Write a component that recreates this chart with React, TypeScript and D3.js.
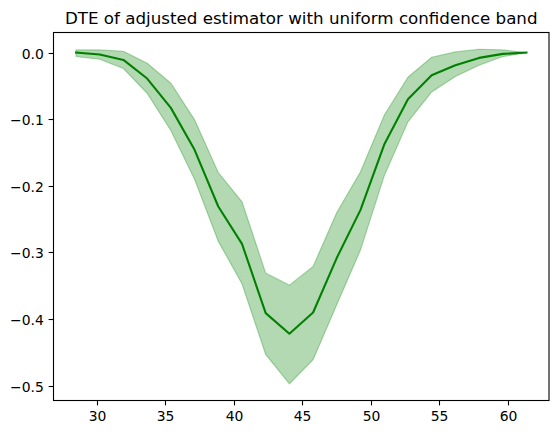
import * as React from 'react';
import * as d3 from 'd3';

const xs = [28.5, 30.23, 31.96, 33.69, 35.42, 37.15, 38.88, 40.61, 42.34, 44.07,
	45.8, 47.53, 49.26, 50.99, 52.72, 54.45, 56.18, 57.91, 59.64, 61.37];
const dte = [0, -0.003, -0.011, -0.039, -0.083, -0.146, -0.231, -0.287, -0.391, -0.422,
	-0.390, -0.308, -0.236, -0.138, -0.070, -0.034, -0.019, -0.008, -0.002, 0];
const upper = [0.004, 0.004, 0.002, -0.016, -0.046, -0.101, -0.180, -0.224, -0.331, -0.349,
	-0.321, -0.240, -0.179, -0.094, -0.037, -0.007, 0.001, 0.005, 0.004, 0];
const lower = [-0.006, -0.010, -0.024, -0.061, -0.117, -0.190, -0.283, -0.347, -0.453, -0.497,
	-0.461, -0.378, -0.296, -0.185, -0.104, -0.059, -0.036, -0.019, -0.006, 0];
const xTicks = [30, 35, 40, 45, 50, 55, 60];
const yTicks = [0, -0.1, -0.2, -0.3, -0.4, -0.5];
const title = 'DTE of adjusted estimator with uniform confidence band';

const W = 559, H = 435;
const box = {left: 53.5, top: 32.5, right: 549, bottom: 400.5};
const font = '"DejaVu Sans", sans-serif';

const draw = (svgNode: SVGSVGElement) => {
	const svg = d3.select(svgNode);
	svg.html('');

	// matplotlib style 5% margins
	const xmin = d3.min(xs)!, xmax = d3.max(xs)!;
	const ymin = d3.min(lower)!, ymax = d3.max(upper)!;
	const xpad = (xmax - xmin) * 0.05, ypad = (ymax - ymin) * 0.05;

	const x = d3.scaleLinear().domain([xmin - xpad, xmax + xpad]).range([box.left, box.right]);
	const y = d3.scaleLinear().domain([ymin - ypad, ymax + ypad]).range([box.bottom, box.top]);

	const idx = d3.range(xs.length);

	const area = d3.area<number>()
		.x(i => x(xs[i]))
		.y0(i => y(lower[i]))
		.y1(i => y(upper[i]));

	svg.append('path')
		.attr('d', area(idx))
		.attr('fill', 'green')
		.attr('fill-opacity', 0.3)
		.attr('stroke', 'green')
		.attr('stroke-opacity', 0.3)
		.attr('stroke-width', 1.2);

	const line = d3.line<number>()
		.x(i => x(xs[i]))
		.y(i => y(dte[i]));

	svg.append('path')
		.attr('d', line(idx))
		.attr('fill', 'none')
		.attr('stroke', 'green')
		.attr('stroke-width', 2.08)
		.attr('stroke-linejoin', 'round')
		.attr('stroke-linecap', 'square');

	// frame
	svg.append('rect')
		.attr('x', box.left)
		.attr('y', box.top)
		.attr('width', box.right - box.left)
		.attr('height', box.bottom - box.top)
		.attr('fill', 'none')
		.attr('stroke', 'black')
		.attr('stroke-width', 1.1);

	const fmt = d3.format('.1f');

	const xg = svg.append('g');
	xTicks.forEach(t => {
		const px = Math.round(x(t)) + 0.5;
		xg.append('line')
			.attr('x1', px).attr('x2', px)
			.attr('y1', box.bottom).attr('y2', box.bottom + 4.9)
			.attr('stroke', 'black').attr('stroke-width', 1.1);
		xg.append('text')
			.attr('x', px)
			.attr('y', box.bottom + 9.7)
			.attr('dy', '0.76em')
			.attr('text-anchor', 'middle')
			.style('font-family', font)
			.style('font-size', '13.9px')
			.text(t);
	});

	const yg = svg.append('g');
	yTicks.forEach(t => {
		const py = Math.round(y(t)) + 0.5;
		yg.append('line')
			.attr('x1', box.left - 4.9).attr('x2', box.left)
			.attr('y1', py).attr('y2', py)
			.attr('stroke', 'black').attr('stroke-width', 1.1);
		yg.append('text')
			.attr('x', box.left - 9.7)
			.attr('y', py)
			.attr('dy', '0.36em')
			.attr('text-anchor', 'end')
			.style('font-family', font)
			.style('font-size', '13.9px')
			.text(fmt(t));
	});

	svg.append('text')
		.attr('x', (box.left + box.right) / 2)
		.attr('y', box.top - 8.3)
		.attr('text-anchor', 'middle')
		.style('font-family', font)
		.style('font-size', '16.7px')
		.text(title);
};

export default function App() {
	const ref = React.useRef<SVGSVGElement>(null);

	React.useEffect(() => {
		if (ref.current) draw(ref.current);
	}, []);

	return (
		<svg
			ref={ref}
			width={W}
			height={H}
			style={{position: 'absolute', left: 0, top: 0, background: 'white'}}
		/>
	);
}
